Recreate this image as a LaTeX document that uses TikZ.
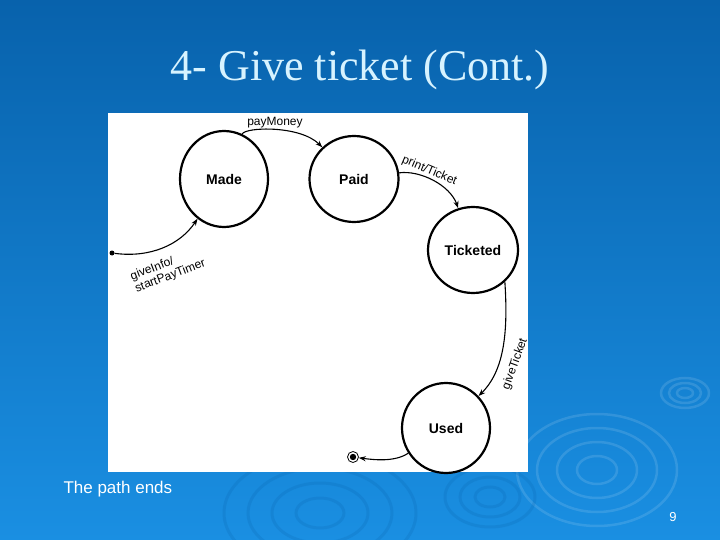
\documentclass[tikz,border=0pt]{standalone}
\usepackage{fontspec}
\setmainfont{Liberation Sans}
\newfontfamily\titlefont{Liberation Serif}
\usepackage{tikz}
\usetikzlibrary{shapes.geometric, arrows.meta}

\definecolor{bluscuro}{RGB}{8,98,172}
\definecolor{bluchiaro}{RGB}{26,143,226}
\definecolor{titolo}{RGB}{215,243,255}

\begin{document}
\begin{tikzpicture}[x=1pt, y=-1pt, >={Stealth[length=7pt, width=5pt]},
    stato/.style={ellipse, draw, line width=2.2pt, inner sep=0pt, font=\fontsize{14}{14}\selectfont\bfseries},
    evento/.style={font=\fontsize{12}{13}\selectfont, inner sep=1pt},
    onda chiara/.style={line width=2.5pt, white, opacity=0.12},
    onda scura/.style={line width=3pt, bluscuro, opacity=0.2}]
    % Sfondo
    \shade[top color=bluscuro, bottom color=bluchiaro] (0,0) rectangle (720,540);
    \useasboundingbox (0,0) rectangle (720,540);
    \foreach \r in {1,...,4} {
        \draw[onda chiara] (597,470) ellipse [x radius=\r*20pt, y radius=\r*14pt];
        \draw[onda scura] (320,513) ellipse [x radius=\r*24pt, y radius=\r*15pt];
    }
    \foreach \r in {1,2,3} {
        \draw[onda chiara] (685,393) ellipse [x radius=\r*8pt, y radius=\r*5pt];
        \draw[onda scura] (490,497) ellipse [x radius=\r*15pt, y radius=\r*10pt];
    }

    % Titolo e pannello
    \node[text=titolo, font=\titlefont\fontsize{44}{44}\selectfont] (titolo) at (360,70) {4- Give ticket (Cont.)};
    \fill[white] (108,113) rectangle (528,472);

    % Nodi
    \node[stato, minimum width=88pt, minimum height=96pt] (Made) at (224,179) {Made};
    \node[stato, minimum width=89pt, minimum height=86pt] (Paid) at (354,179) {Paid};
    \node[stato, minimum width=90pt, minimum height=86pt] (Ticketed) at (473,250) {Ticketed};
    \node[stato, minimum width=88pt, minimum height=90pt] (Used) at (446,428) {Used};
    \node[circle, fill, inner sep=0pt, minimum size=5pt] (inizio) at (112,253) {};
    \node[circle, draw, line width=0.8pt, inner sep=0pt, minimum size=11pt,
        path picture={\fill (path picture bounding box.center) circle (3.2pt);}] (fine) at (353,457) {};

    % Archi
    \draw[->, line width=1.1pt] (inizio) .. controls (150,258) and (180,245) .. (Made);
    \draw[->, line width=1.1pt] (Made) .. controls (245,127) and (300,125) .. (Paid) node[evento, midway, above] {payMoney};
    \draw[->, line width=1.1pt] (Paid) .. controls (420,170) and (450,185) .. (Ticketed) node[evento, pos=0.4, above, sloped] {print/Ticket};
    \draw[->, line width=1.1pt] (Ticketed.-45) .. controls (508,330) and (505,370) .. (Used);
    \draw[->, line width=1.1pt] (Used) .. controls (395,462) and (375,460) .. (fine);

    % Etichette
    \node[evento, rotate=21, align=left] (lgive) at (168,270) {giveInfo/\\startPayTimer};
    \node[evento, rotate=70] (lticket) at (515,364) {giveTicket};

    % Testo
    \node[text=white, font=\fontsize{17}{17}\selectfont, anchor=west] (nota) at (60,489) {The path ends};
    \node[text=white, font=\fontsize{13}{13}\selectfont] (pagina) at (673,517) {9};
\end{tikzpicture}
\end{document}
